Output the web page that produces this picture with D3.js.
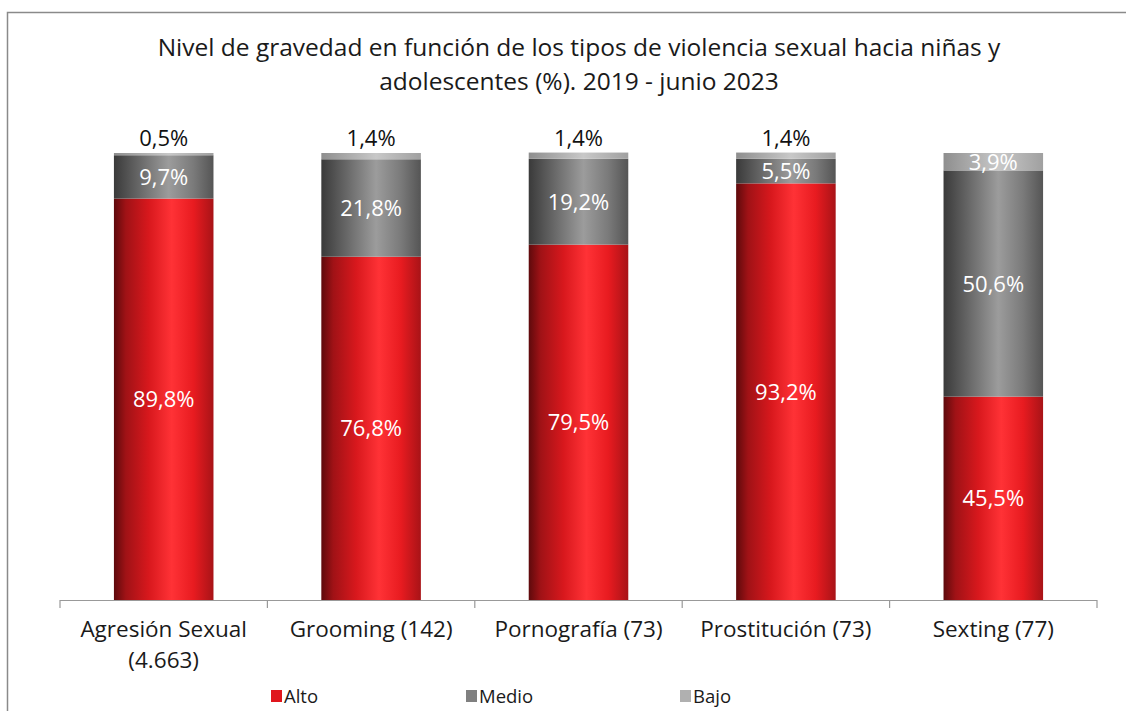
<!DOCTYPE html>
<html><head><meta charset="utf-8">
<script src="https://cdn.jsdelivr.net/npm/d3@7"></script>
<style>body{margin:0;background:#fff}svg{display:block}text{font-family:"Open Sans",sans-serif}</style>
</head><body><svg id="c" width="1126" height="711"></svg>
<script>
const categories = ["Agresión Sexual (4.663)", "Grooming (142)", "Pornografía (73)", "Prostitución (73)", "Sexting (77)"];
const catLines = [["Agresión Sexual", "(4.663)"], ["Grooming (142)"], ["Pornografía (73)"], ["Prostitución (73)"], ["Sexting (77)"]];
const series = ["Alto", "Medio", "Bajo"];
const alto  = [89.8, 76.8, 79.5, 93.2, 45.5];
const medio = [9.7, 21.8, 19.2, 5.5, 50.6];
const bajo  = [0.5, 1.4, 1.4, 1.4, 3.9];
const titleLines = ["Nivel de gravedad en función de los tipos de violencia sexual hacia niñas y", "adolescentes (%). 2019 - junio 2023"];

const svg = d3.select("#c");
const defs = svg.append("defs");
function grad(id, stops){
  const g = defs.append("linearGradient").attr("id", id).attr("x1","0").attr("x2","1").attr("y1","0").attr("y2","0");
  stops.forEach(s => g.append("stop").attr("offset", s[0]).attr("stop-color", s[1]));
}
grad("gAlto", [[0,"#5e0a0c"],[0.12,"#a01216"],[0.35,"#d8181d"],[0.58,"#ff3236"],[0.8,"#e81b20"],[1,"#a81317"]]);
grad("gMedio", [[0,"#3a3a3a"],[0.15,"#555"],[0.55,"#9c9c9c"],[0.8,"#7a7a7a"],[1,"#555"]]);
grad("gBajo", [[0,"#8e8e8e"],[0.55,"#c8c8c8"],[1,"#a0a0a0"]]);
const fills = {Alto:"url(#gAlto)", Medio:"url(#gMedio)", Bajo:"url(#gBajo)"};
const legendColors = {Alto:"#e0161d", Medio:"#808080", Bajo:"#b0b0b0"};

svg.append("path").attr("d","M7.5,711 L7.5,12.5 L1126,12.5").attr("fill","none").attr("stroke","#8a8a8a").attr("stroke-width",1.5);

svg.append("text").attr("x",579).attr("y",56).attr("text-anchor","middle").attr("font-size",24.5).attr("fill","#1a1a1a").text(titleLines[0]);
svg.append("text").attr("x",579).attr("y",90).attr("text-anchor","middle").attr("font-size",24.5).attr("fill","#1a1a1a").text(titleLines[1]);

const x = d3.scaleBand().domain(categories).range([60,1097]).paddingInner(0.52).paddingOuter(0.26);
const y = d3.scaleLinear().domain([0,100]).range([600,153]);

const data = categories.map((c,i)=>({c, Alto:alto[i], Medio:medio[i], Bajo:bajo[i]}));
const stack = d3.stack().keys(series)(data);

stack.forEach(layer => {
  svg.append("g").selectAll("rect").data(layer).join("rect")
    .attr("x", d=>x(d.data.c)).attr("width", x.bandwidth())
    .attr("y", d=>y(d[1])).attr("height", d=>y(d[0])-y(d[1]))
    .attr("fill", fills[layer.key]);
});

stack.forEach(layer => {
  const key = layer.key;
  layer.forEach(d => {
    const v = d.data[key];
    const cx = x(d.data.c) + x.bandwidth()/2;
    const h = y(d[0]) - y(d[1]);
    let ty, col;
    if (h < 10) { ty = y(d[1]) - 7; col = "#111"; }
    else { ty = (y(d[0]) + y(d[1]))/2 + 8; col = "#fff"; }
    svg.append("text").attr("x",cx).attr("y",ty).attr("text-anchor","middle").attr("font-size",22).attr("fill",col)
      .text(v.toFixed(1).replace(".", ",") + "%");
  });
});

const axisStep = (1097-60)/5;
svg.append("line").attr("x1",60).attr("x2",1097).attr("y1",600.5).attr("y2",600.5).attr("stroke","#999").attr("stroke-width",1.2);
d3.range(6).forEach(i=>{
  const xx = 60 + i*axisStep;
  svg.append("line").attr("x1",xx).attr("x2",xx).attr("y1",600).attr("y2",608).attr("stroke","#999").attr("stroke-width",1.2);
});
categories.forEach((c,i)=>{
  const cx = x(c) + x.bandwidth()/2;
  const t = svg.append("text").attr("text-anchor","middle").attr("font-size",22.5).attr("fill","#1a1a1a");
  catLines[i].forEach((ln,j)=> t.append("tspan").attr("x",cx).attr("y",637 + j*31).text(ln));
});

const legendX = [271, 466, 680];
series.forEach((s,i)=>{
  svg.append("rect").attr("x",legendX[i]).attr("y",690).attr("width",11).attr("height",12).attr("fill",legendColors[s]);
  svg.append("text").attr("x",legendX[i]+13).attr("y",703).attr("font-size",18.5).attr("fill","#1a1a1a").text(s);
});
</script></body></html>
